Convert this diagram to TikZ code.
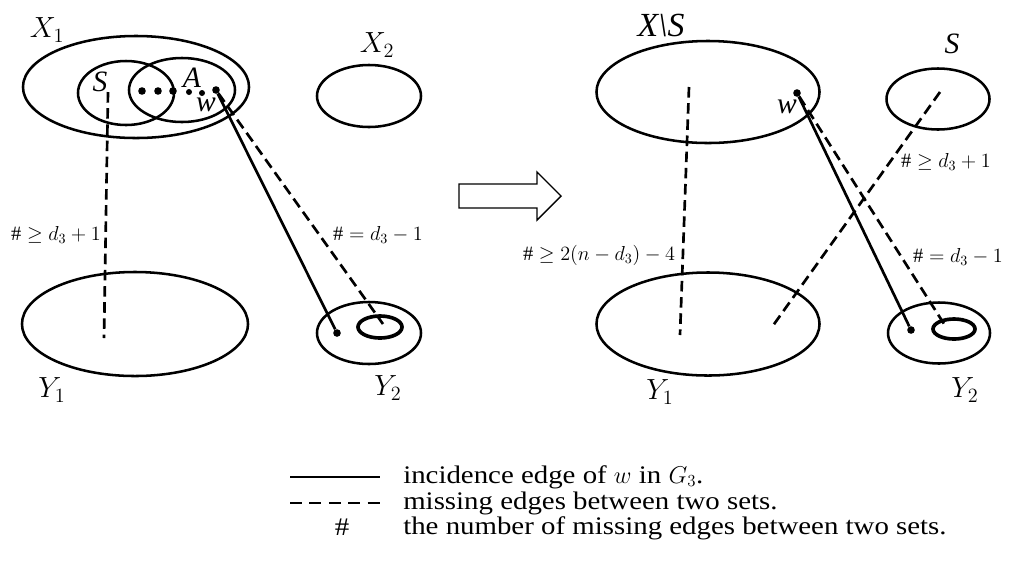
\documentclass[tikz,border=0pt]{standalone}
\usepackage{fontspec}
\usepackage{amsmath, amssymb}
\setmainfont{Liberation Serif}
\newfontfamily\legfont[FakeStretch=1.14]{Liberation Serif}
\usetikzlibrary{shapes.geometric, positioning}

\begin{document}
\begin{tikzpicture}[
    x=0.025cm, y=-0.025cm,
    blob/.style={ellipse, draw=black, line width=1.8pt, inner sep=0pt},
    core/.style={ellipse, draw=black, line width=2.6pt, inner sep=0pt},
    vtx/.style={circle, fill=black, inner sep=0pt, minimum size=0.19cm},
    pip/.style={circle, fill=black, inner sep=0pt, minimum size=0.15cm},
    lbl/.style={font=\fontsize{22}{26}\selectfont},
    tlbl/.style={font=\fontsize{21}{24}\selectfont\itshape},
    cnt/.style={font=\fontsize{14.5}{17}\selectfont},
    legtxt/.style={anchor=west, inner sep=0pt, font=\fontsize{18}{21}\legfont},
    incid/.style={draw=black, line width=1.9pt},
    miss/.style={draw=black, line width=1.9pt, dash pattern=on 7.5pt off 4pt},
    legmiss/.style={draw=black, line width=1.9pt, dash pattern=on 8.5pt off 5.3pt}
]
    \useasboundingbox (0,0) rectangle (1011,562);

    % before
    \node [blob, minimum width=5.65cm, minimum height=2.55cm] (X1) at (136,87) {};
    \node [blob, minimum width=2.4cm, minimum height=1.6cm] (S1) at (126,93) {};
    \node [blob, minimum width=2.65cm, minimum height=1.6cm] (A1) at (182,90) {};
    \node [blob, minimum width=2.6cm, minimum height=1.55cm] (X2) at (369,96) {};
    \node [blob, minimum width=5.65cm, minimum height=2.6cm] (Y1) at (135,324) {};
    \node [blob, minimum width=2.6cm, minimum height=1.55cm] (Y2) at (369,333) {};
    \node [core, minimum width=1.1cm, minimum height=0.55cm] (Y2in) at (380,327) {};

    \node [lbl] (X1lab) at (47,30) {$X_1$};
    \node [lbl] (X2lab) at (377,45) {$X_2$};
    \node [lbl] (Y1lab) at (52,390) {$Y_1$};
    \node [lbl] (Y2lab) at (388,388) {$Y_2$};
    \node [tlbl] (S1lab) at (100,82) {S};
    \node [tlbl] (A1lab) at (192,78) {A};
    \node [tlbl] (w1lab) at (206,105) {w};

    \foreach \x in {142,158,173}
        \node [vtx] (dot\x) at (\x,91) {};
    \node [pip] (dot189) at (189,92) {};
    \node [pip] (dot202) at (202,93) {};
    \node [vtx] (w1) at (216,90) {};
    \node [vtx] (u1) at (337,333) {};
    \coordinate (s1top) at (108,92);
    \coordinate (y1bot) at (104,338);
    \coordinate (in1) at (383,324);

    \path [miss] (s1top) -- (y1bot);
    \path [incid] (w1) -- (u1);
    \path [miss] (w1) -- (in1);

    \node [cnt] (c1) at (56,235) {$\#\geq d_3+1$};
    \node [cnt] (c2) at (378,235) {$\#=d_3-1$};

    \draw [line width=1pt] (459,184) -- (537,184) -- (537,172) -- (561,196)
        -- (537,220) -- (537,208) -- (459,208) -- cycle;

    % after
    \node [blob, minimum width=5.575cm, minimum height=2.55cm] (XS) at (708,92) {};
    \node [blob, minimum width=2.575cm, minimum height=1.525cm] (S2) at (938,99) {};
    \node [blob, minimum width=5.575cm, minimum height=2.575cm] (Y1r) at (708,324) {};
    \node [blob, minimum width=2.55cm, minimum height=1.525cm] (Y2r) at (939,333) {};
    \node [core, minimum width=1.05cm, minimum height=0.5cm] (Y2rin) at (954,329) {};

    \node [tlbl, font=\fontsize{24}{28}\selectfont\itshape] (XSlab) at (661,25) {X\textbackslash S};
    \node [tlbl] (S2lab) at (952,44) {S};
    \node [lbl] (Y1rlab) at (660,392) {$Y_1$};
    \node [lbl] (Y2rlab) at (965,390) {$Y_2$};
    \node [tlbl] (w2lab) at (787,107) {w};

    \node [vtx] (w2) at (797,93) {};
    \node [vtx] (u2) at (911,330) {};
    \coordinate (xstop) at (689,87);
    \coordinate (y1rbot) at (680,335);
    \coordinate (s2top) at (940,92);
    \coordinate (y1rend) at (772,327);
    \coordinate (in2) at (946,327);

    \path [miss] (xstop) -- (y1rbot);
    \path [miss] (s2top) -- (y1rend);
    \path [incid] (w2) -- (u2);
    \path [miss] (w2) -- (in2);

    \node [cnt] (c3) at (599,255) {$\#\geq 2(n-d_3)-4$};
    \node [cnt] (c4) at (946,162) {$\#\geq d_3+1$};
    \node [cnt] (c5) at (958,257) {$\#=d_3-1$};

    % legend
    \coordinate (l1a) at (290,477);
    \coordinate (l1b) at (380,477);
    \coordinate (l2a) at (290,503);
    \coordinate (l2b) at (380,503);
    \path [incid] (l1a) -- (l1b);
    \path [legmiss] (l2a) -- (l2b);
    \node [legtxt, anchor=center] (l3) at (342,527) {\#};
    \node [legtxt] (t1) at (403,477) {incidence edge of $w$ in $G_3$.};
    \node [legtxt] (t2) at (403,503) {missing edges between two sets.};
    \node [legtxt] (t3) at (403,528) {the number of missing edges between two sets.};
\end{tikzpicture}
\end{document}
